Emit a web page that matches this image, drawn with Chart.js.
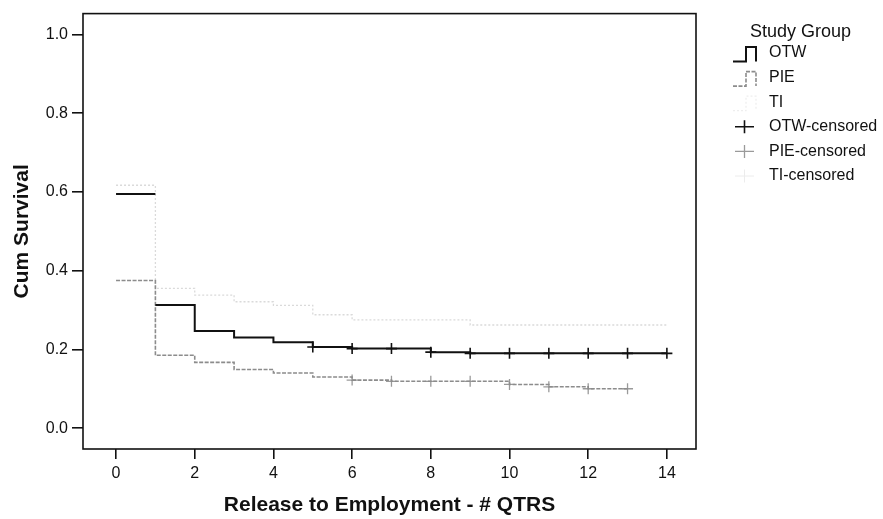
<!DOCTYPE html>
<html>
<head>
<meta charset="utf-8">
<script src="https://cdn.jsdelivr.net/npm/chart.js@4/dist/chart.umd.min.js"></script>
<style>
  html, body { margin: 0; padding: 0; background: #fff; }
  #wrap { width: 883px; height: 519px; }
</style>
</head>
<body>
<div id="wrap"><canvas id="km"></canvas></div>
<script>
// Kaplan-Meier steps (time in quarters, cum survival)
// null breaks the OTW line: no drop is drawn at t=1
const otwX = [0, 1, 1, 1, 2, 3, 4, 5, 6, 8, 9, 14];
const otwY = [0.595, 0.595, null, 0.313, 0.247, 0.230, 0.218, 0.206, 0.202, 0.193, 0.190, 0.190];

const pieX = [0, 1, 2, 3, 4, 5, 6, 7, 10, 11, 12, 13];
const pieY = [0.375, 0.185, 0.167, 0.149, 0.140, 0.130, 0.122, 0.119, 0.111, 0.105, 0.100, 0.100];

const tiX = [0, 1, 2, 3, 4, 5, 6, 9, 14];
const tiY = [0.617, 0.355, 0.338, 0.321, 0.312, 0.288, 0.275, 0.262, 0.262];

// censored cases
const otwCensX = [5, 6, 7, 8, 9, 10, 11, 12, 13, 14];
const otwCensY = [0.206, 0.202, 0.202, 0.193, 0.190, 0.190, 0.190, 0.190, 0.190, 0.190];
const pieCensX = [6, 7, 8, 9, 10, 11, 12, 13];
const pieCensY = [0.122, 0.119, 0.119, 0.119, 0.111, 0.105, 0.100, 0.100];
const tiCensX = [];
const tiCensY = [];

const yTicks = [0, 0.2, 0.4, 0.6, 0.8, 1.0];
const xTicks = [0, 2, 4, 6, 8, 10, 12, 14];

const legendTitle = 'Study Group';
const xTitle = 'Release to Employment - # QTRS';
const yTitle = 'Cum Survival';

const FONT = '"Liberation Sans", Arial, Helvetica, sans-serif';
Chart.defaults.font.family = FONT;
Chart.defaults.color = '#111';

function pts(xs, ys) {
  return xs.map((x, i) => ({ x: x, y: ys[i] }));
}

// box round the plot area
const framePlugin = {
  id: 'frame',
  afterDraw(chart) {
    const a = chart.chartArea;
    const ctx = chart.ctx;
    ctx.save();
    ctx.strokeStyle = '#111';
    ctx.lineWidth = 1.6;
    ctx.strokeRect(a.left, a.top, a.right - a.left, a.bottom - a.top);
    ctx.restore();
  }
};

// SPSS style legend to the right: step icons for curves, + for censored
const legendPlugin = {
  id: 'groupLegend',
  afterDraw(chart) {
    const ctx = chart.ctx;
    const x0 = chart.chartArea.right + 37;   // icon left
    const tx = chart.chartArea.right + 73;   // text left
    ctx.save();
    ctx.fillStyle = '#111';
    ctx.textBaseline = 'middle';
    ctx.textAlign = 'left';
    ctx.font = '18px ' + FONT;
    ctx.fillText(legendTitle, chart.chartArea.right + 54, 32);
    ctx.font = '16px ' + FONT;
    chart.data.datasets.forEach((ds, i) => {
      const cy = 53 + i * 24.6;
      ctx.strokeStyle = ds.legendColor || ds.borderColor;
      ctx.lineWidth = ds.borderWidth;
      ctx.setLineDash(ds.borderDash || []);
      ctx.beginPath();
      if (ds.showLine === false) {
        ctx.moveTo(x0 + 2, cy); ctx.lineTo(x0 + 21, cy);
        ctx.moveTo(x0 + 11.5, cy - 6.5); ctx.lineTo(x0 + 11.5, cy + 6.5);
      } else {
        ctx.moveTo(x0, cy + 8.5); ctx.lineTo(x0 + 13, cy + 8.5);
        ctx.lineTo(x0 + 13, cy - 6); ctx.lineTo(x0 + 23, cy - 6);
        ctx.lineTo(x0 + 23, cy + 8.5);
      }
      ctx.stroke();
      ctx.setLineDash([]);
      ctx.fillText(ds.label, tx, cy);
    });
    ctx.restore();
  }
};

const stepLine = (label, xs, ys, color, width, dash, legendColor) => ({
  label: label,
  data: pts(xs, ys),
  borderColor: color,
  legendColor: legendColor,
  borderWidth: width,
  borderDash: dash,
  stepped: 'before',
  pointRadius: 0,
  fill: false,
  spanGaps: false
});

const censored = (label, xs, ys, color, width, legendColor) => ({
  label: label,
  data: pts(xs, ys),
  showLine: false,
  borderColor: color,
  legendColor: legendColor,
  borderWidth: width,
  pointStyle: 'cross',
  pointRadius: 5.5,
  pointBorderColor: color,
  pointBorderWidth: width
});

new Chart(document.getElementById('km').getContext('2d'), {
  type: 'line',
  data: {
    datasets: [
      stepLine('OTW', otwX, otwY, '#111', 2, []),
      stepLine('PIE', pieX, pieY, '#8c8c8c', 1.6, [4, 1.5]),
      stepLine('TI', tiX, tiY, '#dadada', 1.3, [2, 2], '#eeeeee'),
      censored('OTW-censored', otwCensX, otwCensY, '#111', 1.6),
      censored('PIE-censored', pieCensX, pieCensY, '#9a9a9a', 1.3),
      censored('TI-censored', tiCensX, tiCensY, '#e2e2e2', 1, '#ececec')
    ]
  },
  options: {
    responsive: true,
    maintainAspectRatio: false,
    animation: false,
    layout: { padding: { top: 11, right: 187, bottom: 0, left: 0 } },
    plugins: {
      legend: { display: false },
      tooltip: { enabled: false }
    },
    scales: {
      x: {
        type: 'linear',
        min: -0.84,
        max: 14.74,
        afterBuildTicks: (scale) => { scale.ticks = xTicks.map(v => ({ value: v })); },
        ticks: { font: { size: 16 }, padding: 5, maxRotation: 0, autoSkip: false },
        grid: { drawOnChartArea: false, drawTicks: true, tickLength: 10, color: '#111', lineWidth: 1.6 },
        border: { display: false },
        title: { display: true, text: xTitle, font: { size: 21, weight: 'bold' }, padding: { top: 0, bottom: 1 } },
        afterFit: (scale) => { scale.height = 70; }
      },
      y: {
        type: 'linear',
        min: -0.053,
        max: 1.053,
        afterBuildTicks: (scale) => { scale.ticks = yTicks.map(v => ({ value: v })); },
        ticks: { font: { size: 16 }, padding: 4, callback: (v) => Number(v).toFixed(1) },
        grid: { drawOnChartArea: false, drawTicks: true, tickLength: 11, color: '#111', lineWidth: 1.6 },
        border: { display: false },
        title: { display: true, text: yTitle, font: { size: 21, weight: 'bold' }, padding: { top: 10, bottom: 0 } },
        afterFit: (scale) => { scale.width = 83; }
      }
    }
  },
  plugins: [framePlugin, legendPlugin]
});
</script>
</body>
</html>
